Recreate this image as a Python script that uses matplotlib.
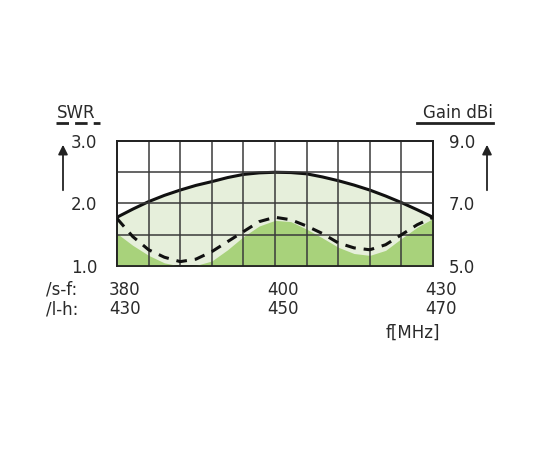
import matplotlib.pyplot as plt
from matplotlib.lines import Line2D

# grid columns 0..10, every half column
cols = [i * 0.5 for i in range(21)]
swr = [1.76, 1.47, 1.26, 1.14, 1.07, 1.11, 1.23, 1.39, 1.55, 1.71, 1.78,
       1.74, 1.64, 1.52, 1.37, 1.29, 1.26, 1.34, 1.50, 1.66, 1.78]
swr_fill = [1.52, 1.33, 1.17, 1.05, 1.0, 1.01, 1.08, 1.26, 1.47, 1.64, 1.73,
            1.71, 1.59, 1.45, 1.30, 1.20, 1.17, 1.25, 1.44, 1.62, 1.76]
gain_cols = [i * 0.5 for i in range(21)]
gain = [6.56, 6.82, 7.06, 7.26, 7.43, 7.58, 7.70, 7.83, 7.93, 7.98, 8.0,
        7.99, 7.95, 7.85, 7.73, 7.59, 7.43, 7.24, 7.03, 6.80, 6.56]

sf_labels = ["380", "400", "430"]
lh_labels = ["430", "450", "470"]
label_cols = [0, 5, 10]
swr_ticks = [1.0, 2.0, 3.0]
gain_ticks = [5.0, 7.0, 9.0]

light = "#e6efdb"
dark = "#a8d27b"
txt = "#2a2a2a"
fs = 12

fig = plt.figure(figsize=(5.5, 4.5), dpi=100)
ax2 = fig.add_axes([117 / 550, 1 - 266 / 450, 316 / 550, 125 / 450])
ax = ax2.twinx()
ax.set_zorder(ax2.get_zorder() + 1)
ax.patch.set_visible(False)

ax2.fill_between(gain_cols, 5, gain, color=light, lw=0, zorder=1)
ax2.plot(gain_cols, gain, color="#111111", lw=2.2, zorder=3)
ax2.set_ylim(5, 9)
ax2.set_xlim(0, 10)

ax.fill_between(cols, 1, swr_fill, color=dark, lw=0, zorder=1)
ax.plot(cols, swr, color="#111111", lw=2.2, ls=(0, (3.5, 2.6)), zorder=3)
ax.set_ylim(1, 3)
ax.set_xlim(0, 10)

# grid: 10 columns x 4 rows
for k in range(1, 10):
    ax.axvline(k, color="#3a3a3a", lw=1.1, zorder=2.5)
for v in [1.5, 2.0, 2.5]:
    ax.axhline(v, color="#3a3a3a", lw=1.1, zorder=2.5)

for a in (ax, ax2):
    a.set_xticks([])
    a.set_yticks([])
    for s in a.spines.values():
        s.set_color("#222222")
        s.set_linewidth(1.3)

# left SWR labels and right gain labels
for v in swr_ticks:
    ax.text(-0.63, v - 0.03, f"{v:.1f}", ha="right", va="center", fontsize=fs,
            color=txt, clip_on=False)
for v in gain_ticks:
    ax2.text(10.5, v - 0.06, f"{v:.1f}", ha="left", va="center", fontsize=fs,
             color=txt, clip_on=False)

# frequency rows under the plot
xt = ax.get_xaxis_transform()
row1 = -0.19
row2 = -0.345
ax.text(-2.25, row1, "/s-f:", transform=xt, ha="left", va="center",
        fontsize=fs, color=txt)
ax.text(-2.25, row2, "/l-h:", transform=xt, ha="left", va="center",
        fontsize=fs, color=txt)
for c, a_lab, b_lab in zip(label_cols, sf_labels, lh_labels):
    ax.text(c + 0.25, row1, a_lab, transform=xt, ha="center", va="center",
            fontsize=fs, color=txt)
    ax.text(c + 0.25, row2, b_lab, transform=xt, ha="center", va="center",
            fontsize=fs, color=txt)
ax.text(9.35, -0.53, "f[MHz]", transform=xt, ha="center", va="center",
        fontsize=fs, color=txt)

# axis titles with underlines, and arrows
fig.text(57 / 550, 1 - 113 / 450, "SWR", ha="left", va="center",
         fontsize=fs, color=txt)
fig.text(493 / 550, 1 - 113 / 450, "Gain dBi", ha="right", va="center",
         fontsize=fs, color=txt)
fig.add_artist(Line2D([56 / 550, 100 / 550], [1 - 123 / 450] * 2,
                      color="#222222", lw=2, ls=(0, (4.5, 2.2)),
                      transform=fig.transFigure))
fig.add_artist(Line2D([417 / 550, 493 / 550], [1 - 123 / 450] * 2,
                      color="#222222", lw=2, transform=fig.transFigure))
for xp in (63, 487):
    fig.add_artist(plt.Annotation("", xy=(xp / 550, 1 - 142 / 450),
                                  xytext=(xp / 550, 1 - 193 / 450),
                                  xycoords="figure fraction",
                                  arrowprops=dict(arrowstyle="-|>", color="#222222",
                                                  lw=1.3, mutation_scale=14)))

plt.savefig("out.png", dpi=100)
